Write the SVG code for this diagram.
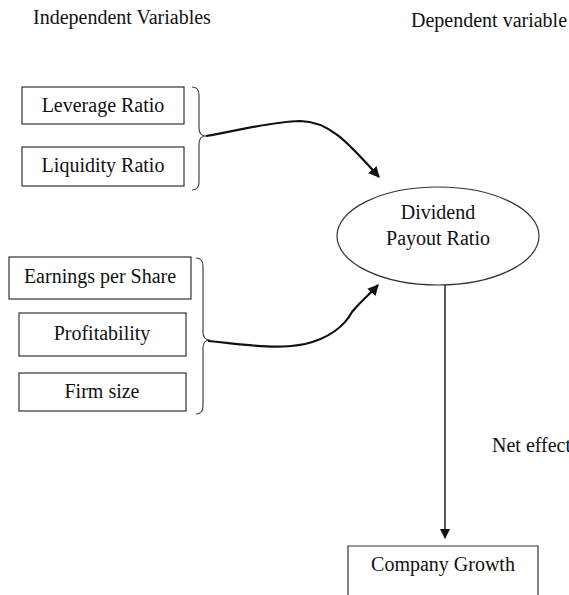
<svg xmlns="http://www.w3.org/2000/svg" width="569" height="595" viewBox="0 0 569 595">
  <style>
    text { font-family: "Liberation Serif", "Times New Roman", serif; font-size: 20px; fill: #111; }
    .mid { text-anchor: middle; }
    .box { fill: #fff; stroke: #333; stroke-width: 1.2; }
    .brace { fill: none; stroke: #444; stroke-width: 1.2; }
    .arrow { fill: none; stroke: #111; stroke-width: 2.2; }
    .line { fill: none; stroke: #222; stroke-width: 1.5; }
  </style>
  <defs>
    <marker id="head" viewBox="0 0 10 10" refX="9" refY="5" markerWidth="5" markerHeight="5" orient="auto" markerUnits="strokeWidth">
      <path d="M0,0 L10,5 L0,10 z" fill="#111"/>
    </marker>
    <marker id="headThin" viewBox="0 0 10 10" refX="9" refY="5" markerWidth="7" markerHeight="7" orient="auto" markerUnits="strokeWidth">
      <path d="M0,0 L10,5 L0,10 z" fill="#111"/>
    </marker>
  </defs>

  <!-- Column headings -->
  <text x="33" y="24">Independent Variables</text>
  <text x="411" y="27">Dependent variable</text>

  <!-- First group -->
  <g id="leverage">
    <rect class="box" x="22" y="87" width="162" height="37"/>
    <text class="mid" x="103" y="112">Leverage Ratio</text>
  </g>
  <g id="liquidity">
    <rect class="box" x="22" y="147" width="162" height="39"/>
    <text class="mid" x="103" y="172">Liquidity Ratio</text>
  </g>

  <!-- Second group -->
  <g id="eps">
    <rect class="box" x="9" y="257" width="182" height="42"/>
    <text class="mid" x="100" y="283">Earnings per Share</text>
  </g>
  <g id="profitability">
    <rect class="box" x="19" y="313" width="167" height="43"/>
    <text class="mid" x="102" y="340">Profitability</text>
  </g>
  <g id="firmsize">
    <rect class="box" x="19" y="373" width="167" height="38"/>
    <text class="mid" x="102" y="398">Firm size</text>
  </g>

  <!-- Braces grouping the inputs -->
  <g id="braces">
    <path class="brace" d="M192,87 Q199,87 199,95 L199,128 Q199,136 206,136 Q199,136 199,144 L199,182 Q199,190 192,190"/>
    <path class="brace" d="M196,258 Q203,258 203,266 L203,332 Q203,340 210,340 Q203,340 203,348 L203,406 Q203,414 196,414"/>
  </g>

  <!-- Dependent variable -->
  <g id="dpr">
    <ellipse cx="438" cy="236" rx="101" ry="49" fill="#fff" stroke="#333" stroke-width="1.2"/>
    <text class="mid" x="438" y="219">Dividend</text>
    <text class="mid" x="438" y="245">Payout Ratio</text>
  </g>

  <!-- Outcome -->
  <g id="growth">
    <path class="box" d="M348,596 L348,546 L538,546 L538,596"/>
    <text class="mid" x="443" y="571">Company Growth</text>
  </g>

  <text x="492" y="452">Net effect</text>

  <!-- Connectors -->
  <g id="connectors">
    <path class="arrow" marker-end="url(#head)" d="M206,136 C240,130 270,122 300,121 C330,121 350,145 379,177"/>
    <path class="arrow" marker-end="url(#head)" d="M208,341 C240,344 275,350 305,344 C330,338 345,325 352,312 C362,300 370,294 378,285"/>
    <path class="line" marker-end="url(#headThin)" d="M445,285 L445,538"/>
  </g>
</svg>
